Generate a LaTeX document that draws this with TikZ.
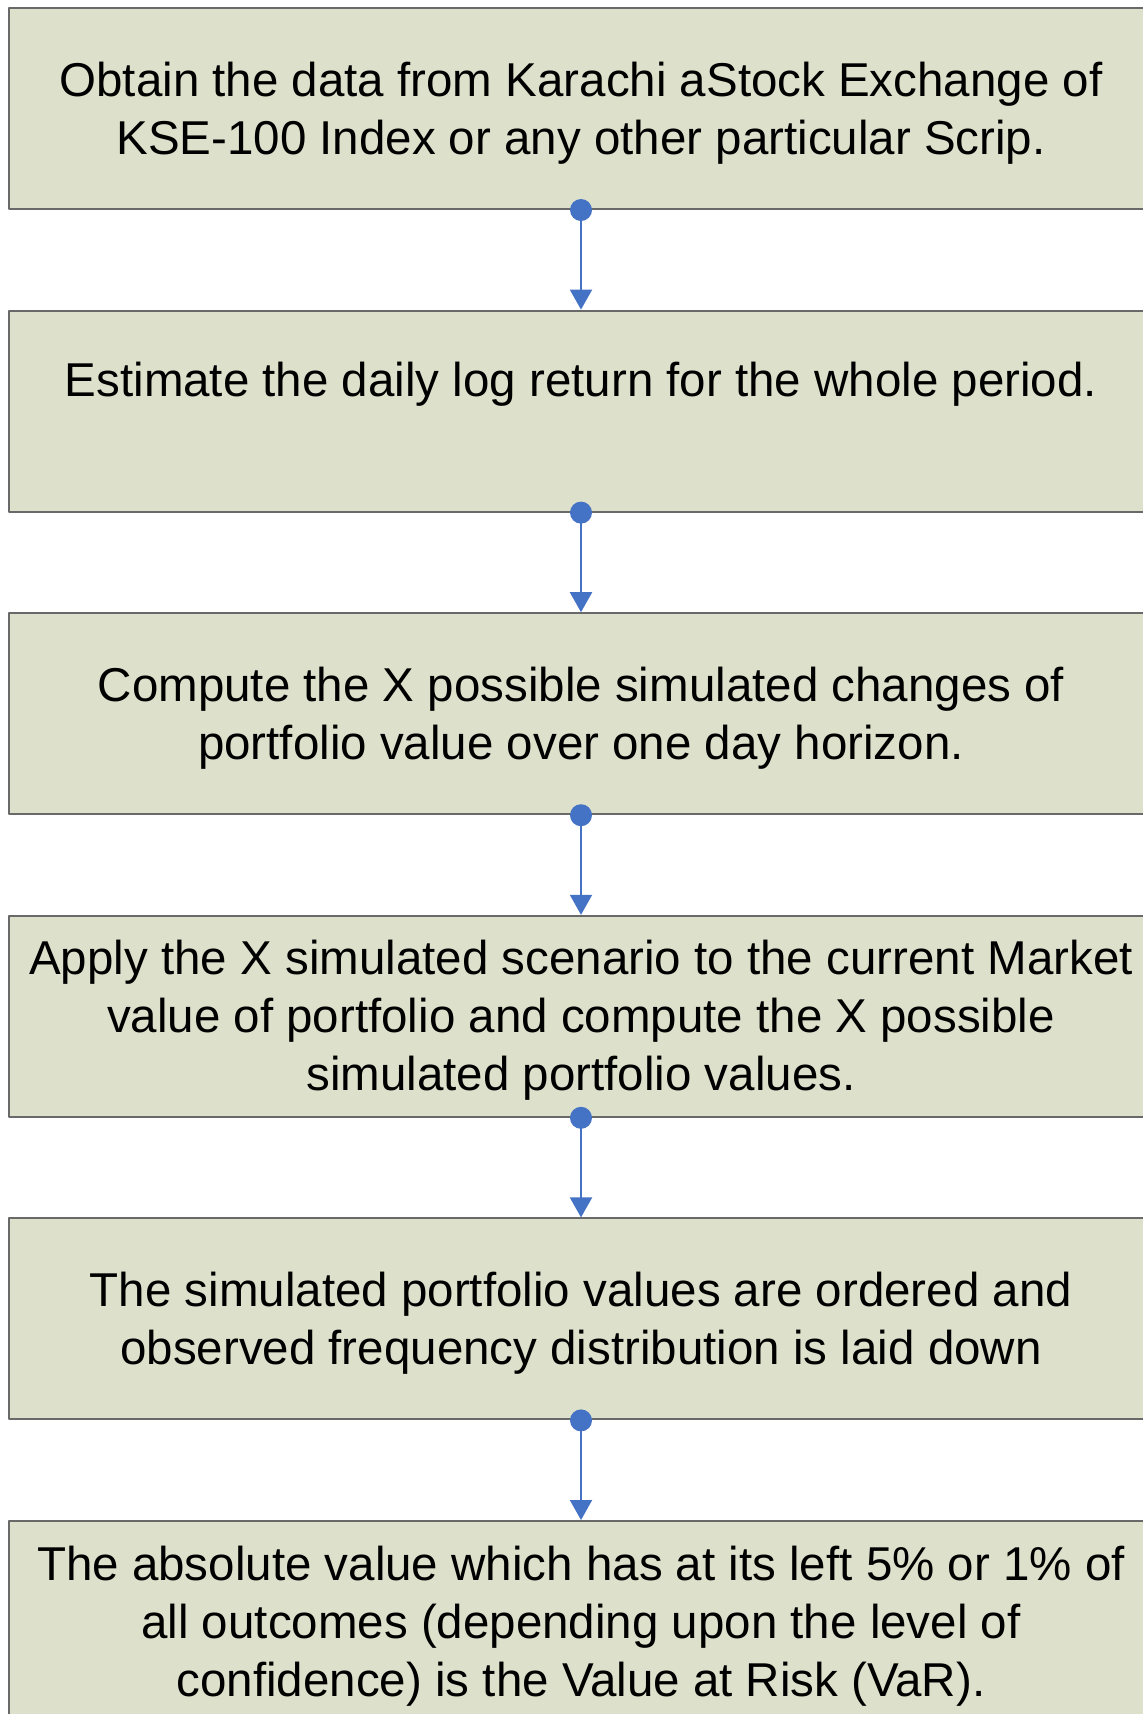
\documentclass[tikz,border=0pt]{standalone}
\usepackage{fontspec}
\setmainfont{Liberation Sans}
\usetikzlibrary{positioning,arrows.meta}

\definecolor{boxfill}{RGB}{221,224,203}
\definecolor{boxline}{RGB}{105,105,105}
\definecolor{linkblue}{RGB}{68,114,196}

\tikzset{
	stepbox/.style={draw=boxline, line width=1pt, fill=boxfill, rectangle,
		minimum width=572pt, minimum height=100.5pt, inner sep=0pt, align=center,
		font=\fontsize{23.75pt}{29pt}\selectfont, text depth=0.6pt},
	link/.style={draw=linkblue, line width=1pt, -{Triangle[width=11pt,length=10pt]}},
}

\begin{document}
\begin{tikzpicture}[node distance=49.8pt, line join=round]
				\useasboundingbox (0,0) rectangle (571.5pt,-857pt);
				\node[stepbox] (obtain) at (290.5pt,-54.25pt) {Obtain the data from Karachi aStock Exchange of\\KSE-100 Index or any other particular Scrip.};
				\node[stepbox, below=of obtain, text depth=3.3pt] (estimate) {Estimate the daily log return for the whole period.\\\strut};
				\node[stepbox, below=of estimate] (compute) {Compute the X possible simulated changes of\\portfolio value over one day horizon.};
				\node[stepbox, below=of compute] (apply) {Apply the X simulated scenario to the current Market\\value of portfolio and compute the X possible\\simulated portfolio values.};
				\node[stepbox, below=of apply] (order) {The simulated portfolio values are ordered and\\observed frequency distribution is laid down};
				\node[stepbox, below=of order] (var) {The absolute value which has at its left 5\% or 1\% of\\all outcomes (depending upon the level of\\confidence) is the Value at Risk (VaR).};
				\foreach \a/\b in {obtain/estimate, estimate/compute, compute/apply, apply/order, order/var} {
					\draw[link] (\a.south) -- (\b.north);
					\fill[linkblue] (\a.south) circle (5.5pt);
				}
			\end{tikzpicture}
\end{document}
